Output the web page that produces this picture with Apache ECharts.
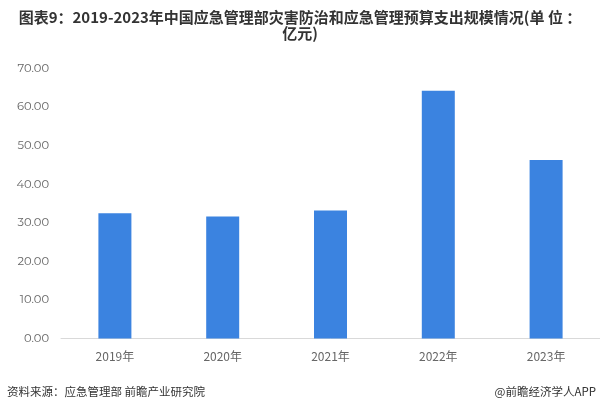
<!DOCTYPE html>
<html><head><meta charset="utf-8">
<script src="https://cdn.jsdelivr.net/npm/echarts@6/dist/echarts.min.js"></script>
<style>html,body{margin:0;padding:0;background:#fff}#c{width:600px;height:417px}</style>
</head><body><div id="c"></div>
<script>
const categories = ['2019年','2020年','2021年','2022年','2023年'];
const values = [32.5, 31.6, 33.2, 64.2, 46.3];
const titleText = '图表9：2019-2023年中国应急管理部灾害防治和应急管理预算支出规模情况(单 位 ：\n亿元)';
const sourceText = '资料来源：应急管理部 前瞻产业研究院';
const brandText = '@前瞻经济学人APP';

const chart = echarts.init(document.getElementById('c'));
chart.setOption({
  animation: false,
  title: {
    text: titleText,
    left: 'center', top: 4,
    textStyle: {fontSize: 15, fontWeight: 'bold', color: '#333', lineHeight: 16, fontFamily: 'Noto Sans CJK SC'}
  },
  graphic: [
    {type: 'text', left: 7, top: 386, style: {text: sourceText, fontSize: 11.5, fill: '#333', fontFamily: 'Noto Sans CJK SC'}},
    {type: 'text', right: 4, top: 386, style: {text: brandText, fontSize: 11.5, fill: '#333', fontFamily: 'Noto Sans CJK SC'}}
  ],
  grid: {left: 61, right: -2, top: 68.5, bottom: 78.5},
  xAxis: {
    type: 'category', data: categories,
    axisLine: {lineStyle: {color: '#d9d9d9'}},
    axisTick: {show: false},
    axisLabel: {color: '#666', fontSize: 12, margin: 12, fontFamily: 'Noto Sans CJK SC'}
  },
  yAxis: {
    type: 'value', min: 0, max: 70, interval: 10,
    splitLine: {show: false},
    axisLine: {show: false}, axisTick: {show: false},
    axisLabel: {color: '#666', fontSize: 11.5, margin: 12, formatter: v => v.toFixed(2), fontFamily: 'Montserrat, Noto Sans, sans-serif'}
  },
  series: [{
    type: 'bar', data: values, barWidth: 33,
    itemStyle: {color: '#3b83e0'}
  }]
});
</script></body></html>
